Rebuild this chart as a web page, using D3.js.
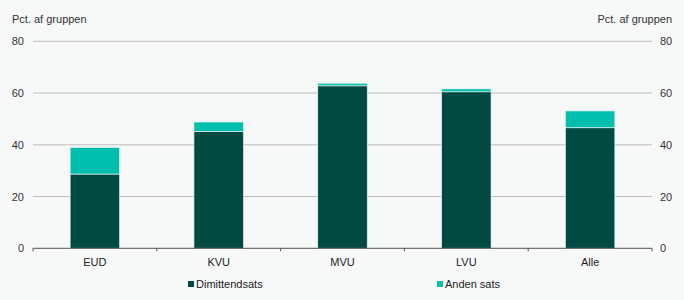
<!DOCTYPE html>
<html>
<head>
<meta charset="utf-8">
<script src="https://cdn.jsdelivr.net/npm/d3@7"></script>
<style>
  html, body { margin: 0; padding: 0; background: #f7f9f9; }
  svg { display: block; font-family: "Liberation Sans", Arial, sans-serif; }
</style>
</head>
<body>
<svg id="chart" width="684" height="300"></svg>
<script>
// data
var categories = ["EUD", "KVU", "MVU", "LVU", "Alle"];
var dimittend = [28.7, 45.1, 62.8, 60.5, 46.6];
var anden = [10.3, 3.7, 1.0, 1.1, 6.5];
var seriesNames = ["Dimittendsats", "Anden sats"];
var yTicks = [0, 20, 40, 60, 80];
var axisTitle = "Pct. af gruppen";

var colors = ["#004a42", "#00bfae"];
var plotLeft = 33, plotRight = 652, plotTop = 41.3, plotBottom = 248.3;

var svg = d3.select("#chart");

var x = d3.scaleBand().domain(categories).range([plotLeft, plotRight]).paddingInner(0.6).paddingOuter(0.3);
var xb = d3.scaleBand().domain(categories).range([plotLeft, plotRight]);
var y = d3.scaleLinear().domain([0, 80]).range([plotBottom, plotTop]);

// gridlines
svg.append("g").selectAll("line").data(yTicks.filter(function(d) { return d > 0; }))
  .enter().append("line")
  .attr("x1", plotLeft).attr("x2", plotRight)
  .attr("y1", function(d) { return y(d); }).attr("y2", function(d) { return y(d); })
  .attr("stroke", "#bdbdbd").attr("stroke-width", 1);

// left/right tick labels
var tl = svg.append("g").attr("font-size", 11).attr("fill", "#333");
tl.selectAll("text.l").data(yTicks).enter().append("text").attr("class", "l")
  .attr("x", 24).attr("y", function(d) { return y(d) + 4; })
  .attr("text-anchor", "end").text(function(d) { return d; });
tl.selectAll("text.r").data(yTicks).enter().append("text").attr("class", "r")
  .attr("x", 660).attr("y", function(d) { return y(d) + 4; })
  .attr("text-anchor", "start").text(function(d) { return d; });

// axis titles
svg.append("text").attr("x", 12).attr("y", 23).attr("font-size", 11)
  .attr("fill", "#333").text(axisTitle);
svg.append("text").attr("x", 672).attr("y", 23).attr("font-size", 11)
  .attr("fill", "#333").attr("text-anchor", "end").text(axisTitle);

// stacked bars
var rows = categories.map(function(c, i) { return { cat: c, d: dimittend[i], a: anden[i] }; });
var stack = d3.stack().keys(["d", "a"])(rows);
svg.append("g").selectAll("g").data(stack).enter().append("g")
  .attr("fill", function(d, i) { return colors[i]; })
  .selectAll("rect").data(function(d) { return d; }).enter().append("rect")
  .attr("x", function(d) { return x(d.data.cat); })
  .attr("width", x.bandwidth())
  .attr("y", function(d) { return y(d[1]); })
  .attr("height", function(d) { return y(d[0]) - y(d[1]); })
  .attr("stroke", "#e8f2f0").attr("stroke-width", 0.7);

// x axis
var xa = svg.append("g").attr("transform", "translate(0," + plotBottom + ")");
xa.append("line").attr("x1", plotLeft).attr("x2", plotRight).attr("stroke", "#555").attr("stroke-width", 1);
var bounds = [plotLeft].concat(categories.map(function(c) { return xb(c) + xb.bandwidth(); }));
xa.selectAll("line.t").data(bounds).enter().append("line").attr("class", "t")
  .attr("x1", function(d) { return d; }).attr("x2", function(d) { return d; })
  .attr("y1", 0).attr("y2", 3).attr("stroke", "#555");
xa.selectAll("text").data(categories).enter().append("text")
  .attr("x", function(d) { return xb(d) + xb.bandwidth() / 2; })
  .attr("y", 18).attr("text-anchor", "middle").attr("font-size", 11).attr("fill", "#222")
  .text(function(d) { return d; });

// legend
var legX = [188, 437];
var lg = svg.append("g").selectAll("g").data(seriesNames).enter().append("g")
  .attr("transform", function(d, i) { return "translate(" + legX[i] + ",281)"; });
lg.append("rect").attr("width", 6).attr("height", 6).attr("fill", function(d, i) { return colors[i]; });
lg.append("text").attr("x", 8).attr("y", 6.5).attr("font-size", 11).attr("fill", "#222")
  .text(function(d) { return d; });
</script>
</body>
</html>
